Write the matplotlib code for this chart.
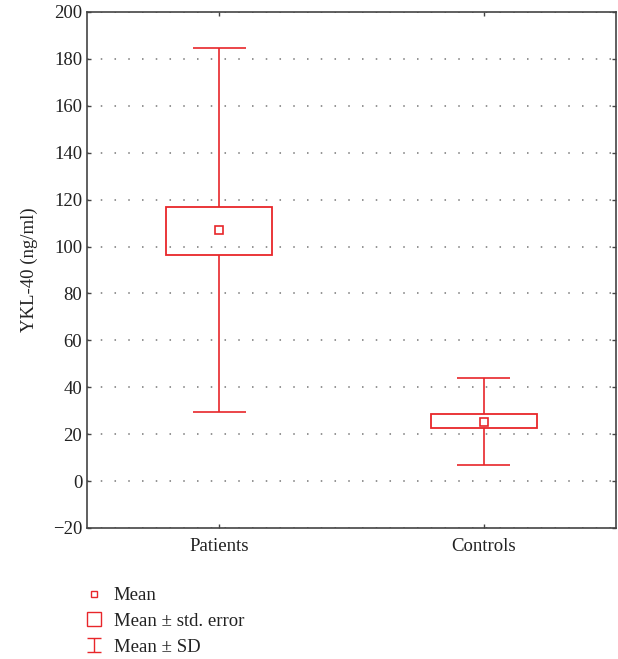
"""YKL-40 levels in patients and controls: mean, mean +/- SE box, mean +/- SD whiskers."""
import matplotlib

matplotlib.use("Agg")
import matplotlib.pyplot as plt
from matplotlib.lines import Line2D
from matplotlib.path import Path

plt.rcParams["font.family"] = ["Liberation Serif", "DejaVu Serif"]

groups = ["Patients", "Controls"]
means = [107.0, 25.0]
se_low = [96.5, 22.5]
se_high = [117.0, 28.5]
sd_low = [29.5, 7.0]
sd_high = [184.5, 44.0]

yticks = [-20, 0, 20, 40, 60, 80, 100, 120, 140, 160, 180, 200]

RED = "#e8262a"
BOX_W = 0.4
CAP_W = 0.2
FS = 13.5

fig = plt.figure(figsize=(6.18, 6.59), dpi=100)
ax = fig.add_axes([0.1408, 0.1988, 0.856, 0.783])

xs = list(range(1, len(groups) + 1))
for x, m, lo, hi, sl, sh in zip(xs, means, se_low, se_high, sd_low, sd_high):
    # box for mean +/- standard error
    ax.bar(x, hi - lo, bottom=lo, width=BOX_W, fill=False,
           edgecolor=RED, linewidth=1.3, zorder=3)
    # whiskers for mean +/- SD, drawn outward from the box
    ax.vlines(x, hi, sh, color=RED, linewidth=1.2, zorder=3)
    ax.vlines(x, sl, lo, color=RED, linewidth=1.2, zorder=3)
    ax.hlines([sl, sh], x - CAP_W / 2, x + CAP_W / 2, color=RED,
              linewidth=1.2, zorder=3)
    ax.plot(x, m, marker="s", ms=5.5, mfc="white", mec=RED, mew=1.2,
            ls="none", zorder=4)

ax.set_xlim(0.5, len(groups) + 0.5)
ax.set_ylim(-20, 200)
ax.set_xticks(xs)
ax.set_xticklabels(groups)
ax.set_yticks(yticks)
ax.tick_params(direction="in", top=True, right=True, labelsize=FS,
               length=3, width=1, color="#444444", labelcolor="#222222")
ax.tick_params(axis="x", pad=7)
ax.grid(axis="y", linestyle=(0, (1, 8)), color="#777777", linewidth=1.1)
for sp in ax.spines.values():
    sp.set_linewidth(1.2)
    sp.set_color("#444444")
ax.set_ylabel("YKL-40 (ng/ml)", fontsize=FS, color="#222222", labelpad=11)

# I-shaped marker for the SD legend entry
sd_marker = Path(
    [(-0.5, 0.5), (0.5, 0.5), (0, 0.5), (0, -0.5), (-0.5, -0.5), (0.5, -0.5)],
    [Path.MOVETO, Path.LINETO, Path.MOVETO, Path.LINETO, Path.MOVETO, Path.LINETO],
)
handles = [
    Line2D([], [], marker="s", ms=5, mfc="white", mec=RED, mew=1, ls="none"),
    Line2D([], [], marker="s", ms=10, mfc="white", mec=RED, mew=1, ls="none"),
    Line2D([], [], marker=sd_marker, ms=10, mfc="none", mec=RED, mew=1, ls="none"),
]
labels = ["Mean", "Mean \u00b1 std. error", "Mean \u00b1 SD"]
fig.legend(handles, labels, loc="upper left", bbox_to_anchor=(0.1225, 0.123),
           frameon=False, fontsize=FS, handlelength=1.0, handletextpad=0.52,
           labelspacing=0.45, borderpad=0, labelcolor="#222222")

fig.savefig("out.png", dpi=100)
